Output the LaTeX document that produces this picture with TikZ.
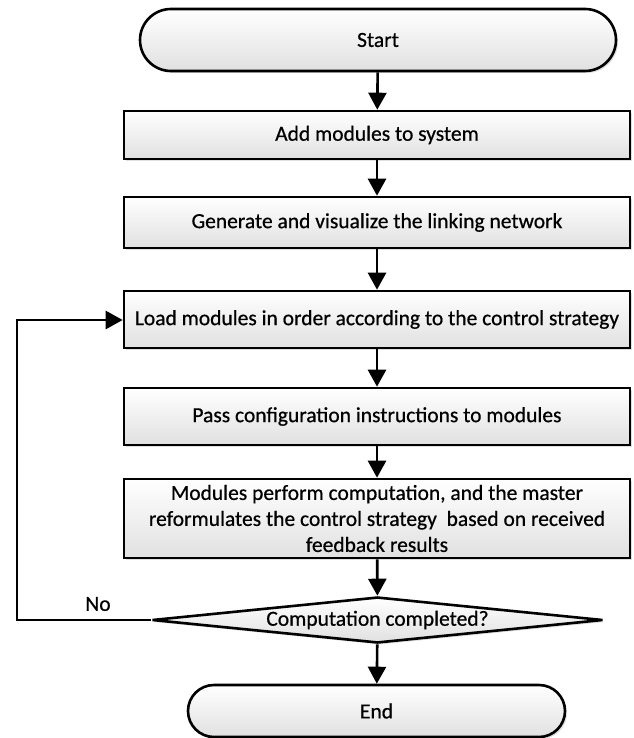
\documentclass[tikz,border=0pt]{standalone}
\usepackage{fontspec}
\setmainfont[FakeBold=0.6]{Carlito}
\usetikzlibrary{arrows.meta,shapes.geometric,shadows}
\begin{document}
\begin{tikzpicture}[x=1pt,y=-1pt,
  every node/.style={font=\fontsize{21.5}{26}\selectfont},
  shade box/.style={draw=black, line width=2.6pt, top color=white, bottom color=black!12,
    drop shadow={opacity=0.25, shadow xshift=2pt, shadow yshift=-2pt}},
  procbox/.style={shade box, rectangle, minimum width=506pt, inner sep=0pt, align=center},
  termbox/.style={shade box, rectangle, inner sep=0pt},
  decbox/.style={shade box, diamond, minimum width=451pt, minimum height=46pt, aspect=9.8, inner sep=0pt},
  conn/.style={line width=2.6pt, -{Triangle[length=17pt,width=18pt]}}]
\useasboundingbox (0,0) rectangle (633,738);
\node[termbox, minimum width=476pt, minimum height=62pt, rounded corners=31pt] (start) at (378,40) {Start};
\node[procbox, minimum height=48pt] (add) at (377,135) {Add modules to system};
\node[procbox, minimum height=51pt] (gen) at (377,222.5) {Generate and visualize the linking network};
\node[procbox, minimum height=57pt] (load) at (377,319.5) {Load modules in order according to the control strategy};
\node[procbox, minimum height=57pt] (pass) at (377,416.5) {Pass configuration instructions to modules};
\node[procbox, minimum height=79pt] (mod) at (377,518.5) {Modules perform computation, and the master\\reformulates the control strategy\ \ based on received\\feedback results};
\node[decbox] (dec) at (377.5,620) {Computation completed?};
\node[termbox, minimum width=377pt, minimum height=52pt, rounded corners=26pt] (end) at (376.5,711) {End};
\coordinate (lb) at (17,620);
\coordinate (lt) at (17,320);
\draw[conn] (start) -- (add);
\draw[conn] (add) -- (gen);
\draw[conn] (gen) -- (load);
\draw[conn] (load) -- (pass);
\draw[conn] (pass) -- (mod);
\draw[conn] (mod) -- (dec);
\draw[conn] (dec) -- (end);
\draw[conn] (dec.west) -- (lb) -- (lt) -- (load.west |- lt);
\node[inner sep=0pt] (no) at (98,604) {No};
\end{tikzpicture}
\end{document}
